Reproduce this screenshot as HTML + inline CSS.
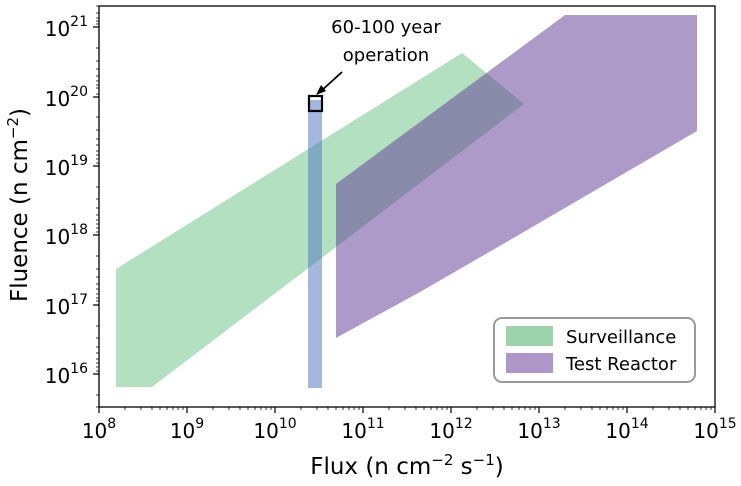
<!DOCTYPE html>
<html><head><style>body{margin:0;background:#fff}svg{display:block}text{font-family:"DejaVu Sans","Liberation Sans",sans-serif;fill:#000}</style></head>
<body>
<svg width="741" height="486" viewBox="0 0 741 486" xmlns="http://www.w3.org/2000/svg">
<polygon points="116,269 116,387 152,387 524,104 462,53" fill="#66c281" fill-opacity="0.5"/>
<polygon points="336,184 336,338 420,292 510,240 697,131 697,15 565,15" fill="#5e3592" fill-opacity="0.5"/>
<rect x="308" y="100" width="14" height="288" fill="#4a72c0" fill-opacity="0.5"/>
<rect x="309" y="96" width="13" height="15" fill="none" stroke="#000" stroke-width="2.2"/>
<line x1="342" y1="72" x2="320" y2="92" stroke="#000" stroke-width="1.8"/>
<polygon points="316,95 321,85 326,91" fill="#000"/>
<text x="386" y="33" font-size="18" text-anchor="middle">60-100 year</text>
<text x="386" y="61" font-size="18" text-anchor="middle">operation</text>
<rect x="494" y="318" width="201" height="64" rx="8" fill="#fff" stroke="#999" stroke-width="2"/>
<rect x="506" y="326" width="47" height="20" fill="#9dd2ac"/>
<rect x="506" y="353" width="47" height="20" fill="#ae97c8"/>
<text x="566" y="343" font-size="18">Surveillance</text>
<text x="566" y="370" font-size="18">Test Reactor</text>
<rect x="99" y="6" width="616" height="401" fill="none" stroke="#000" stroke-width="1.3"/>
<g font-size="20" text-anchor="end">
<text x="88" y="36">10<tspan dy="-10" font-size="14">21</tspan></text>
<text x="88" y="106">10<tspan dy="-10" font-size="14">20</tspan></text>
<text x="88" y="175">10<tspan dy="-10" font-size="14">19</tspan></text>
<text x="88" y="244">10<tspan dy="-10" font-size="14">18</tspan></text>
<text x="88" y="314">10<tspan dy="-10" font-size="14">17</tspan></text>
<text x="88" y="383">10<tspan dy="-10" font-size="14">16</tspan></text>
</g>
<g font-size="20" text-anchor="middle">
<text x="99" y="438">10<tspan dy="-10" font-size="14">8</tspan></text>
<text x="187" y="438">10<tspan dy="-10" font-size="14">9</tspan></text>
<text x="275" y="438">10<tspan dy="-10" font-size="14">10</tspan></text>
<text x="363" y="438">10<tspan dy="-10" font-size="14">11</tspan></text>
<text x="451" y="438">10<tspan dy="-10" font-size="14">12</tspan></text>
<text x="539" y="438">10<tspan dy="-10" font-size="14">13</tspan></text>
<text x="627" y="438">10<tspan dy="-10" font-size="14">14</tspan></text>
<text x="715" y="438">10<tspan dy="-10" font-size="14">15</tspan></text>
</g>
<text x="407" y="474" font-size="23" text-anchor="middle">Flux (n cm<tspan dy="-9" font-size="15">−2</tspan><tspan dy="9"> s</tspan><tspan dy="-9" font-size="15">−1</tspan><tspan dy="9">)</tspan></text>
<text transform="translate(27,205) rotate(-90)" font-size="23" text-anchor="middle">Fluence (n cm<tspan dy="-9" font-size="15">−2</tspan><tspan dy="9">)</tspan></text>
<path stroke="#000" fill="none" stroke-width="1.2" d="
M99,27h-6M99,97h-6M99,166h-6M99,235h-6M99,305h-6M99,374h-6
M99,407v6M187,407v6M275,407v6M363,407v6M451,407v6M539,407v6M627,407v6M715,407v6"/>
<path stroke="#000" fill="none" stroke-width="0.8" d="
M99,6h-3M99,13h-3M99,18h-3M99,21h-3M99,24h-3
M99,48h-3M99,61h-3M99,69h-3M99,76h-3M99,81h-3M99,85h-3M99,88h-3M99,94h-3
M99,117h-3M99,130h-3M99,139h-3M99,145h-3M99,151h-3M99,155h-3M99,159h-3M99,163h-3
M99,187h-3M99,199h-3M99,208h-3M99,215h-3M99,220h-3M99,224h-3M99,228h-3M99,232h-3
M99,256h-3M99,269h-3M99,277h-3M99,284h-3M99,289h-3M99,294h-3M99,298h-3M99,301h-3
M99,326h-3M99,338h-3M99,347h-3M99,353h-3M99,359h-3M99,363h-3M99,367h-3M99,371h-3
M99,395h-3M99,407h-3
M125,407v3M141,407v3M152,407v3M160,407v3M167,407v3M173,407v3M178,407v3M183,407v3
M213,407v3M229,407v3M240,407v3M248,407v3M255,407v3M261,407v3M266,407v3M271,407v3
M301,407v3M317,407v3M328,407v3M336,407v3M343,407v3M349,407v3M354,407v3M359,407v3
M389,407v3M405,407v3M416,407v3M424,407v3M431,407v3M437,407v3M442,407v3M447,407v3
M477,407v3M493,407v3M504,407v3M512,407v3M519,407v3M525,407v3M530,407v3M535,407v3
M565,407v3M581,407v3M592,407v3M600,407v3M607,407v3M613,407v3M618,407v3M623,407v3
M653,407v3M669,407v3M680,407v3M688,407v3M695,407v3M701,407v3M706,407v3M711,407v3"/>
</svg>
</body></html>
